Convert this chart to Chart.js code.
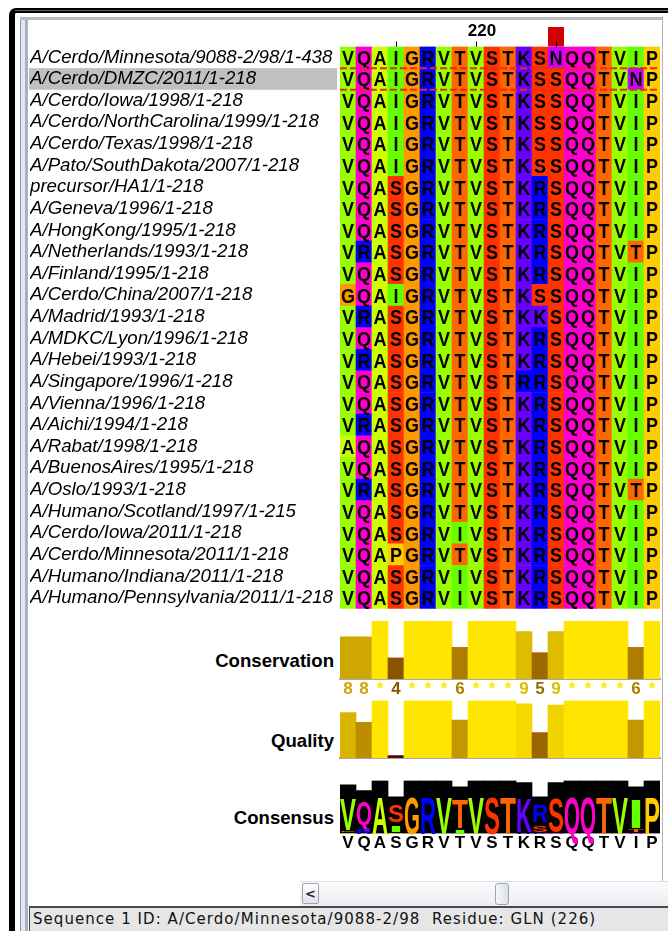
<!DOCTYPE html>
<html><head><meta charset="utf-8">
<script src="https://cdn.jsdelivr.net/npm/chart.js@4.4.0/dist/chart.umd.min.js"></script>
<style>
html,body{margin:0;padding:0;background:#fff;width:668px;height:931px;overflow:hidden;position:relative;font-family:'Liberation Sans',Arial,sans-serif;}
canvas{position:absolute;left:0;}
.abs{position:absolute;}
.alabel{position:absolute;right:334px;font-weight:bold;font-size:18.6px;line-height:20px;color:#000;white-space:nowrap;}
</style></head><body>
<!-- window frame -->
<div class="abs" style="left:9px;top:8px;width:700px;height:960px;border-left:6px solid #000;border-top:5px solid #000;border-top-left-radius:7px;box-sizing:border-box;"></div>
<div class="abs" style="left:15px;top:10px;width:660px;height:1px;background:#666;"></div>
<div class="abs" style="left:20px;top:17px;width:5px;height:914px;background:#e4e6ee;border-left:1px solid #8e95b2;"></div>
<div class="abs" style="left:25px;top:17px;width:3px;height:914px;background:#a9afc6;"></div>
<div class="abs" style="left:20px;top:17px;width:643px;height:3px;background:#bcbcbc;"></div>
<div class="abs" style="left:662px;top:17px;width:1px;height:889px;background:#b4b4b4;"></div>
<!-- annotation labels -->
<div class="alabel" style="top:651px;">Conservation</div>
<div class="alabel" style="top:731px;">Quality</div>
<div class="alabel" style="top:808px;">Consensus</div>
<!-- scrollbar -->
<div class="abs" style="left:300px;top:881px;width:368px;height:25px;background:linear-gradient(#fbfbfc,#eceef3);border-top:1px solid #dcdfe6;box-sizing:border-box;"></div>
<div class="abs" style="left:302px;top:883px;width:17px;height:21px;border:1px solid #9ea3b2;border-radius:2px;background:linear-gradient(#ffffff,#dfe2ea);box-sizing:border-box;font:bold 13px 'DejaVu Sans';line-height:19px;text-align:center;color:#222;">&lt;</div>
<div class="abs" style="left:495px;top:883px;width:14px;height:22px;border:1px solid #9ea3b2;border-radius:3px;background:linear-gradient(90deg,#f6f7fa,#dde0e8);box-sizing:border-box;"></div>
<!-- status bar -->
<div class="abs" style="left:29px;top:906px;width:639px;height:25px;background:#e6e6e6;border-top:2px solid #4a4a4a;border-left:1px solid #4a4a4a;box-sizing:border-box;"></div>
<div class="abs" style="left:33px;top:909px;font:15px 'DejaVu Sans';letter-spacing:1.05px;line-height:20px;white-space:pre;color:#111;">Sequence 1 ID: A/Cerdo/Minnesota/9088-2/98  Residue: GLN (226)</div>

<canvas id="cAlign" width="668" height="620" style="top:0px"></canvas>
<canvas id="cCons" width="668" height="90" style="top:610px"></canvas>
<canvas id="cQual" width="668" height="70" style="top:690px"></canvas>
<canvas id="cLogo" width="668" height="90" style="top:770px"></canvas>

<script>
// ---------------- DATA ----------------
const columns = ['212','213','214','215','216','217','218','219','220','221','222','223','224','225','226','227','228','229','230','231'];
const rulerTicks = ['215','220','225'];
const rulerLabels = ['220'];
const names = [
 'A/Cerdo/Minnesota/9088-2/98/1-438','A/Cerdo/DMZC/2011/1-218','A/Cerdo/Iowa/1998/1-218','A/Cerdo/NorthCarolina/1999/1-218',
 'A/Cerdo/Texas/1998/1-218','A/Pato/SouthDakota/2007/1-218','precursor/HA1/1-218','A/Geneva/1996/1-218','A/HongKong/1995/1-218',
 'A/Netherlands/1993/1-218','A/Finland/1995/1-218','A/Cerdo/China/2007/1-218','A/Madrid/1993/1-218','A/MDKC/Lyon/1996/1-218',
 'A/Hebei/1993/1-218','A/Singapore/1996/1-218','A/Vienna/1996/1-218','A/Aichi/1994/1-218','A/Rabat/1998/1-218',
 'A/BuenosAires/1995/1-218','A/Oslo/1993/1-218','A/Humano/Scotland/1997/1-215','A/Cerdo/Iowa/2011/1-218',
 'A/Cerdo/Minnesota/2011/1-218','A/Humano/Indiana/2011/1-218','A/Humano/Pennsylvania/2011/1-218'];
const sequences = [
 'VQAIGRVTVSTKSNQQTVIP','VQAIGRVTVSTKSSQQTVNP','VQAIGRVTVSTKSSQQTVIP','VQAIGRVTVSTKSSQQTVIP',
 'VQAIGRVTVSTKSSQQTVIP','VQAIGRVTVSTKSSQQTVIP','VQASGRVTVSTKRSQQTVIP','VQASGRVTVSTKRSQQTVIP','VQASGRVTVSTKRSQQTVIP',
 'VRASGRVTVSTKRSQQTVTP','VQASGRVTVSTKRSQQTVIP','GQAIGRVTVSTKSSQQTVIP','VRASGRVTVSTKKSQQTVIP','VQASGRVTVSTKRSQQTVIP',
 'VRASGRVTVSTKRSQQTVIP','VQASGRVTVSTRRSQQTVIP','VQASGRVTVSTKRSQQTVIP','VRASGRVTVSTKRSQQTVIP','AQASGRVTVSTKRSQQTVIP',
 'VQASGRVTVSTKRSQQTVIP','VRASGRVTVSTKRSQQTVTP','VQASGRVTVSTKRSQQTVIP','VQASGRVIVSTKRSQQTVIP',
 'VQAPGRVTVSTKRSQQTVIP','VQASGRVIVSTKRSQQTVIP','VQASGRVIVSTKRSQQTVIP'];
const conservation = [8,8,11,4,11,11,11,6,11,11,11,9,5,9,11,11,11,11,6,11];
const quality = [79,62,100,4,100,100,100,66,100,100,100,94,44,92,100,100,100,100,66,100];
const consensusPct = [92,81,100,69,100,100,100,88,100,100,100,96,69,96,100,100,100,100,88,100];
const consensusLetters = ['V','Q','A','S','G','R','V','T','V','S','T','K','R','S','Q','Q','T','V','I','P'];
const selectedRow = 1;
const markedColumn = '225';

// Taylor colour scheme
const TAYLOR = {A:'#CCFF00',R:'#0000FF',N:'#CC00FF',D:'#FF0000',C:'#FFFF00',Q:'#FF00CC',E:'#FF0066',G:'#FF9900',H:'#0066FF',
 I:'#66FF00',L:'#33FF00',K:'#6600FF',M:'#00FF00',F:'#00FF66',P:'#FFCC00',S:'#FF3300',T:'#FF6600',W:'#00CCFF',Y:'#00FFCC',V:'#99FF00'};

const FONT = "'Liberation Sans', Arial, sans-serif";
Chart.defaults.font.family = FONT;

function gradColor(v){ // Jalview annotation gradient
  const r = Math.round(255*(0.3+0.7*v)), g = Math.round(255*(0.9*v));
  return 'rgb(' + r + ',' + g + ',0)';
}
const consColor = v => gradColor(v/11);
const consSymbol = v => v === 11 ? '*' : (v === 10 ? '+' : String(v));

// ---------------- ALIGNMENT ----------------
const cells = [];
sequences.forEach((s, r) => { for (let c = 0; c < s.length; c++) cells.push({x: columns[c], y: [r, r+1], r: r, c: c}); });

const alignDeco = {
  id: 'alignDeco',
  beforeDraw(chart){
    const {ctx, chartArea, scales} = chart;
    const y0 = scales.y.getPixelForValue(selectedRow), y1 = scales.y.getPixelForValue(selectedRow+1);
    ctx.save();
    ctx.fillStyle = '#c0c0c0';
    ctx.fillRect(scales.yl.left - 1, y0, chartArea.left - scales.yl.left - 2, y1 - y0);
    const cw = scales.x.width / columns.length;
    const mx = scales.x.getPixelForValue(columns.indexOf(markedColumn));
    ctx.fillStyle = '#d30000';
    ctx.fillRect(mx - cw/2, chartArea.top - 19.5, cw, 19.5);
    ctx.restore();
  },
  afterDatasetsDraw(chart){
    const {ctx, chartArea, scales} = chart;
    const meta = chart.getDatasetMeta(0);
    const data = chart.data.datasets[0].data;
    ctx.save();
    ctx.font = 'bold 18px ' + FONT;
    ctx.textAlign = 'center';
    ctx.textBaseline = 'alphabetic';
    ctx.fillStyle = '#000';
    const capH = ctx.measureText('V').actualBoundingBoxAscent;
    meta.data.forEach((el, i) => {
      const p = el.getProps(['x','y','base'], true);
      const d = data[i];
      const cy = (p.y + p.base)/2;
      ctx.save();
      ctx.translate(p.x, cy);
      ctx.scale(1, 1.15);
      ctx.fillText(sequences[d.r][d.c], 0, capH/2);
      ctx.restore();
    });
    // selection box dashed lines
    ctx.strokeStyle = '#ee2a10';
    ctx.lineWidth = 2;
    ctx.setLineDash([7,3]);
    [selectedRow, selectedRow+1].forEach(v => {
      const yy = scales.y.getPixelForValue(v);
      ctx.beginPath(); ctx.moveTo(chartArea.left, yy); ctx.lineTo(chartArea.right, yy); ctx.stroke();
    });
    ctx.restore();
  }
};

new Chart(document.getElementById('cAlign'), {
  type: 'bar',
  data: { labels: columns, datasets: [{
    data: cells,
    backgroundColor: ctx => ctx.raw ? TAYLOR[sequences[ctx.raw.r][ctx.raw.c]] : '#fff',
    borderWidth: 0, barPercentage: 1, categoryPercentage: 1, xAxisID: 'x', yAxisID: 'y'
  }]},
  options: {
    responsive: false, animation: false, events: [], devicePixelRatio: 1,
    layout: { padding: { left: 30, right: 8, top: 0, bottom: 6.5 } },
    plugins: { legend: {display: false}, tooltip: {enabled: false} },
    scales: {
      x: { type: 'category', position: 'top', offset: true,
        grid: { display: true, drawOnChartArea: false, drawTicks: true, tickLength: 5, offset: false,
                tickColor: c => (rulerTicks.includes(columns[c.index]) ? '#000' : 'rgba(0,0,0,0)'),
                color: 'rgba(0,0,0,0)', tickWidth: 1 },
        border: { display: false },
        ticks: { autoSkip: false, maxRotation: 0, minRotation: 0, padding: 0, labelOffset: 6, color: '#000',
                 font: { size: 17, weight: 'bold' },
                 callback: (v, i) => (rulerLabels.includes(columns[i]) ? columns[i] : '') },
        afterFit: s => { s.height = 46.5; } },
      y: { type: 'linear', min: 0, max: sequences.length, reverse: true, display: false },
      yl: { type: 'category', position: 'left', labels: names, offset: true,
        grid: { display: false, drawTicks: false, tickLength: 0 }, border: { display: false },
        ticks: { crossAlign: 'far', autoSkip: false, padding: 0, color: '#000',
                 font: { size: 18.7, style: 'italic' } },
        afterFit: s => { s.width = 310; } }
    }
  },
  plugins: [alignDeco]
});

// ---------------- CONSERVATION ----------------
new Chart(document.getElementById('cCons'), {
  type: 'bar',
  data: { labels: columns, datasets: [{ data: conservation, backgroundColor: conservation.map(consColor),
    borderWidth: 0, barPercentage: 1, categoryPercentage: 1 }]},
  options: {
    responsive: false, animation: false, events: [], devicePixelRatio: 1,
    layout: { padding: { left: 340, right: 8, top: 11, bottom: 0 } },
    plugins: { legend: {display: false}, tooltip: {enabled: false} },
    scales: {
      x: { grid: { display: false, drawTicks: false, tickLength: 0 },
           border: { display: true, color: '#a9a9a9', width: 2 },
           ticks: { autoSkip: false, maxRotation: 0, padding: 0, font: { size: 17, weight: 'bold' },
                    color: c => consColor(conservation[c.index]),
                    callback: (v, i) => consSymbol(conservation[i]) },
           afterFit: s => { s.height = 21; } },
      y: { display: false, min: 0, max: 11 }
    }
  }
});

// ---------------- QUALITY ----------------
new Chart(document.getElementById('cQual'), {
  type: 'bar',
  data: { labels: columns, datasets: [{ data: quality, backgroundColor: quality.map(q => gradColor(q/100)),
    borderWidth: 0, barPercentage: 1, categoryPercentage: 1 }]},
  options: {
    responsive: false, animation: false, events: [], devicePixelRatio: 1,
    layout: { padding: { left: 340, right: 8, top: 10.5, bottom: 0 } },
    plugins: { legend: {display: false}, tooltip: {enabled: false} },
    scales: {
      x: { grid: { display: false, drawTicks: false, tickLength: 0 },
           border: { display: true, color: '#a9a9a9', width: 2 },
           ticks: { display: false },
           afterFit: s => { s.height = 2; } },
      y: { display: false, min: 0, max: 100 }
    }
  }
});

// ---------------- CONSENSUS + LOGO ----------------
function columnProfile(c){
  const counts = {};
  sequences.forEach(s => { counts[s[c]] = (counts[s[c]] || 0) + 1; });
  return Object.entries(counts).sort((a, b) => b[1] - a[1]);
}
const logoPlugin = {
  id: 'logo',
  afterDatasetsDraw(chart){
    const ctx = chart.ctx;
    const meta = chart.getDatasetMeta(0);
    ctx.save();
    ctx.font = 'bold 20px ' + FONT;
    ctx.textBaseline = 'alphabetic';
    ctx.textAlign = 'left';
    meta.data.forEach((el, c) => {
      const p = el.getProps(['x','y','base','width'], true);
      const H = p.base - p.y;
      let top = p.y;
      columnProfile(c).forEach(([L, n]) => {
        const h = H * n / sequences.length;
        const m = ctx.measureText(L);
        const sx = p.width / m.width;
        const sy = (h * 0.68) / m.actualBoundingBoxAscent;
        ctx.save();
        ctx.translate(p.x - p.width/2, top + h);
        ctx.scale(sx, sy);
        ctx.fillStyle = TAYLOR[L];
        ctx.fillText(L, 0, 0);
        ctx.restore();
        top += h;
      });
    });
    ctx.restore();
  }
};
new Chart(document.getElementById('cLogo'), {
  type: 'bar',
  data: { labels: columns, datasets: [{ data: consensusPct, backgroundColor: '#000',
    borderWidth: 0, barPercentage: 1, categoryPercentage: 1 }]},
  options: {
    responsive: false, animation: false, events: [], devicePixelRatio: 1,
    layout: { padding: { left: 340, right: 8, top: 10.5, bottom: 0 } },
    plugins: { legend: {display: false}, tooltip: {enabled: false} },
    scales: {
      x: { grid: { display: false, drawTicks: false, tickLength: 0 },
           border: { display: false },
           ticks: { autoSkip: false, maxRotation: 0, padding: 0, color: '#000', font: { size: 17, weight: 'bold' },
                    callback: (v, i) => consensusLetters[i] },
           afterFit: s => { s.height = 26.5; } },
      y: { display: false, min: 0, max: 100 }
    }
  },
  plugins: [logoPlugin]
});
</script>
</body></html>
